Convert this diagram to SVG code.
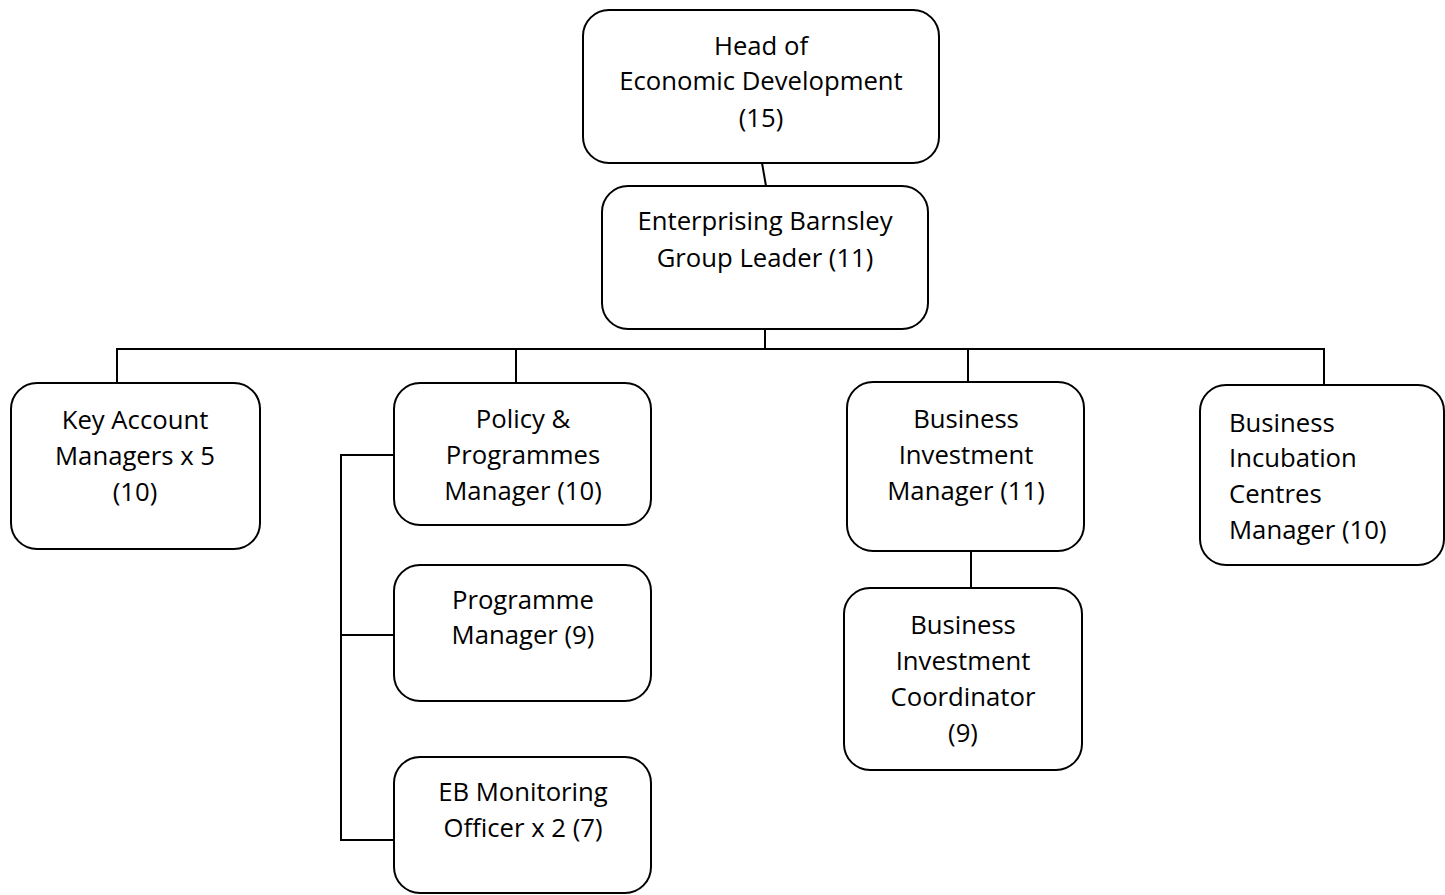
<svg xmlns="http://www.w3.org/2000/svg" width="1445" height="895" viewBox="0 0 1445 895">
<style>
.box{fill:#fff;stroke:#000;stroke-width:2}
.c{stroke:#000;stroke-width:2;fill:none}
text{font-family:"Open Sans","Liberation Sans",sans-serif;font-size:25.7px;fill:#000}
.m{text-anchor:middle}
</style>
<rect width="1445" height="895" fill="#fff"/>
<g id="connectors">
<line class="c" x1="762" y1="163" x2="766" y2="186"/>
<line class="c" x1="765" y1="329" x2="765" y2="349"/>
<line class="c" x1="116" y1="349" x2="1325" y2="349"/>
<line class="c" x1="117" y1="349" x2="117" y2="383"/>
<line class="c" x1="516" y1="349" x2="516" y2="383"/>
<line class="c" x1="968" y1="349" x2="968" y2="382"/>
<line class="c" x1="1324" y1="349" x2="1324" y2="385"/>
<polyline class="c" points="394,455 341,455 341,840 394,840"/>
<line class="c" x1="341" y1="635" x2="394" y2="635"/>
<line class="c" x1="971" y1="551" x2="971" y2="588"/>
</g>
<g id="head">
<rect class="box" x="583" y="10" width="356" height="153" rx="26"/>
<text class="m" x="761" y="55">Head of</text>
<text class="m" x="761" y="90">Economic Development</text>
<text class="m" x="761" y="127">(15)</text>
</g>
<g id="groupleader">
<rect class="box" x="602" y="186" width="326" height="143" rx="26"/>
<text class="m" x="765" y="230">Enterprising Barnsley</text>
<text class="m" x="765" y="267">Group Leader (11)</text>
</g>
<g id="keyaccount">
<rect class="box" x="11" y="383" width="249" height="166" rx="26"/>
<text class="m" x="135" y="429">Key Account</text>
<text class="m" x="135" y="465">Managers x 5</text>
<text class="m" x="135" y="501">(10)</text>
</g>
<g id="policy">
<rect class="box" x="394" y="383" width="257" height="142" rx="26"/>
<text class="m" x="523" y="428">Policy &amp;</text>
<text class="m" x="523" y="464">Programmes</text>
<text class="m" x="523" y="500">Manager (10)</text>
</g>
<g id="programme">
<rect class="box" x="394" y="565" width="257" height="136" rx="26"/>
<text class="m" x="523" y="609">Programme</text>
<text class="m" x="523" y="644">Manager (9)</text>
</g>
<g id="monitoring">
<rect class="box" x="394" y="757" width="257" height="136" rx="26"/>
<text class="m" x="523" y="801">EB Monitoring</text>
<text class="m" x="523" y="837">Officer x 2 (7)</text>
</g>
<g id="bim">
<rect class="box" x="847" y="382" width="237" height="169" rx="26"/>
<text class="m" x="966" y="428">Business</text>
<text class="m" x="966" y="464">Investment</text>
<text class="m" x="966" y="500">Manager (11)</text>
</g>
<g id="bic">
<rect class="box" x="844" y="588" width="238" height="182" rx="26"/>
<text class="m" x="963" y="634">Business</text>
<text class="m" x="963" y="670">Investment</text>
<text class="m" x="963" y="706">Coordinator</text>
<text class="m" x="963" y="742">(9)</text>
</g>
<g id="incubation">
<rect class="box" x="1200" y="385" width="244" height="180" rx="26"/>
<text x="1229" y="432">Business</text>
<text x="1229" y="467">Incubation</text>
<text x="1229" y="503">Centres</text>
<text x="1229" y="539">Manager (10)</text>
</g>
</svg>
